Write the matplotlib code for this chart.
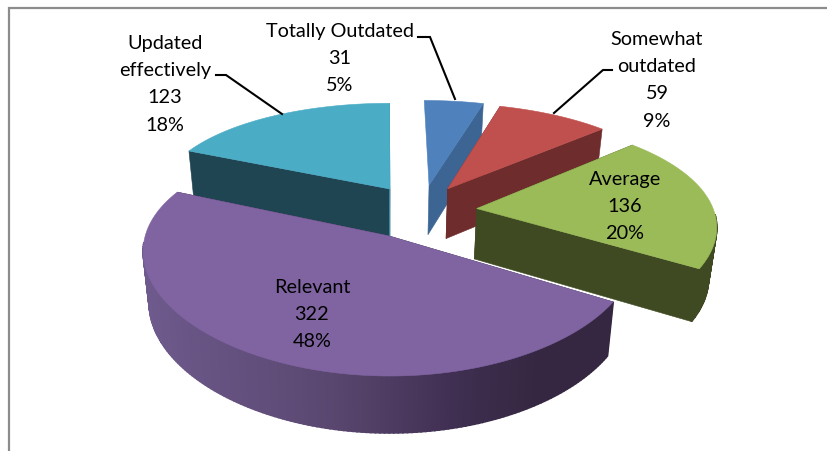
import numpy as np
import matplotlib
matplotlib.use("Agg")
import matplotlib.pyplot as plt
from matplotlib.patches import Polygon

categories = ["Totally Outdated", "Somewhat\noutdated", "Average", "Relevant", "Updated\neffectively"]
values = [31, 59, 136, 322, 123]
pct_labels = ["5%", "9%", "20%", "48%", "18%"]

top_colors = ["#4f81bd", "#c0504d", "#9bbb59", "#8064a2", "#4bacc6"]
start_face = [None, "#6e2c2c", "#3f4a23", "#3a2c4a", "#1f4452"]
end_face = ["#3d6594", "#6e2c2c", "#3f4a23", "#3a2c4a", "#3d93aa"]
wall_colors = ["#3a6291", "#6e2c2c", "#3f4a23", None, "#1f4452"]
x_nudge = [0.02, 0.0, 0.0, 0.0, 0.025]
purple_ramp_x = [143, 330, 460, 540]
purple_ramp = [(0x6e, 0x5a, 0x8c), (0x5a, 0x47, 0x70), (0x3e, 0x2e, 0x50), (0x35, 0x27, 0x41)]

# projection of the pie plane to the picture
X0, Y0, R, RT, K, KX = 385.0, 237.0, 244.0, 115.5, 0.175, 0.13
CX, CY, EXPLODE = 0.135, -0.225, 0.254
D_A, D_B, BOTTOM_SCALE = 26.0, 25.5, 0.975


def project(x, y):
    p = 1.0 / (1.0 - K * y)
    return X0 + R * x / (1.0 - KX * y), Y0 + RT * y * p, p


def bottom(x, y):
    px, py, p = project(x, y)
    return X0 + BOTTOM_SCALE * (px - X0), py + D_A + D_B * p


def hexcol(rgb):
    return tuple(c / 255 for c in rgb)


fig = plt.figure(figsize=(8.28, 4.52), dpi=100)
ax = fig.add_axes([0, 0, 1, 1])
ax.set_xlim(0, 828)
ax.set_ylim(452, 0)
ax.axis("off")
ax.plot([9, 9, 828], [452, 8.5, 8.5], color="#8c8c8c", lw=1.6, zorder=1, solid_joinstyle="miter")

total = sum(values)
edges = np.concatenate([[0], np.cumsum(values)]) / total * 2 * np.pi
z = 2
for i in [0, 1, 4, 2, 3]:
    a0, a1 = edges[i], edges[i + 1]
    mid = (a0 + a1) / 2
    tx = CX + EXPLODE * np.sin(mid) + x_nudge[i]
    ty = CY - EXPLODE * np.cos(mid)
    ang = np.linspace(a0, a1, max(int((a1 - a0) * 60), 8))
    xs = tx + np.sin(ang)
    ys = ty - np.cos(ang)
    # cut faces
    for a, col in ((a0, start_face[i]), (a1, end_face[i])):
        if col is None:
            continue
        ox, oy = tx + np.sin(a), ty - np.cos(a)
        pts = [project(tx, ty)[:2], project(ox, oy)[:2], bottom(ox, oy), bottom(tx, ty)]
        ax.add_patch(Polygon(pts, closed=True, fc=col, ec=col, lw=0.4, zorder=z))
        z += 1
    # outer wall: only the part that faces the viewer
    for j in range(len(ang) - 1):
        if np.cos((ang[j] + ang[j + 1]) / 2) > -0.05:
            continue
        pts = [project(xs[j], ys[j])[:2], project(xs[j + 1], ys[j + 1])[:2],
               bottom(xs[j + 1], ys[j + 1]), bottom(xs[j], ys[j])]
        if wall_colors[i] is None:
            xm = (pts[0][0] + pts[1][0]) / 2
            col = hexcol([np.interp(xm, purple_ramp_x, [c[k] for c in purple_ramp]) for k in range(3)])
        else:
            col = wall_colors[i]
        ax.add_patch(Polygon(pts, closed=True, fc=col, ec=col, lw=1.2, zorder=z))
    z += 1
    # top surface
    pts = [project(tx, ty)[:2]] + [project(a, b)[:2] for a, b in zip(xs, ys)]
    ax.add_patch(Polygon(pts, closed=True, fc=top_colors[i], ec=top_colors[i], lw=0.4, zorder=z))
    z += 1

label_pos = [(340, 31.5), (657, 39.5), (625, 179.5), (312, 287.5), (165, 43.5)]
LINE = 27.2
for name, v, pc, (lx, ly) in zip(categories, values, pct_labels, label_pos):
    lines = name.split("\n") + [str(v), pc]
    for n, s in enumerate(lines):
        ax.text(lx, ly + n * LINE, s, ha="center", va="center", fontsize=14.3,
                family="Lato", color="black", zorder=50)

leaders = [
    ([418, 430, 455], [38, 38, 100]),
    ([612, 603, 554], [71, 71, 114]),
    ([216, 226, 282], [76, 76, 115]),
]
for lx, ly in leaders:
    ax.plot(lx, ly, color="black", lw=1.5, zorder=49, solid_joinstyle="miter")

fig.savefig("out.png", dpi=100)
